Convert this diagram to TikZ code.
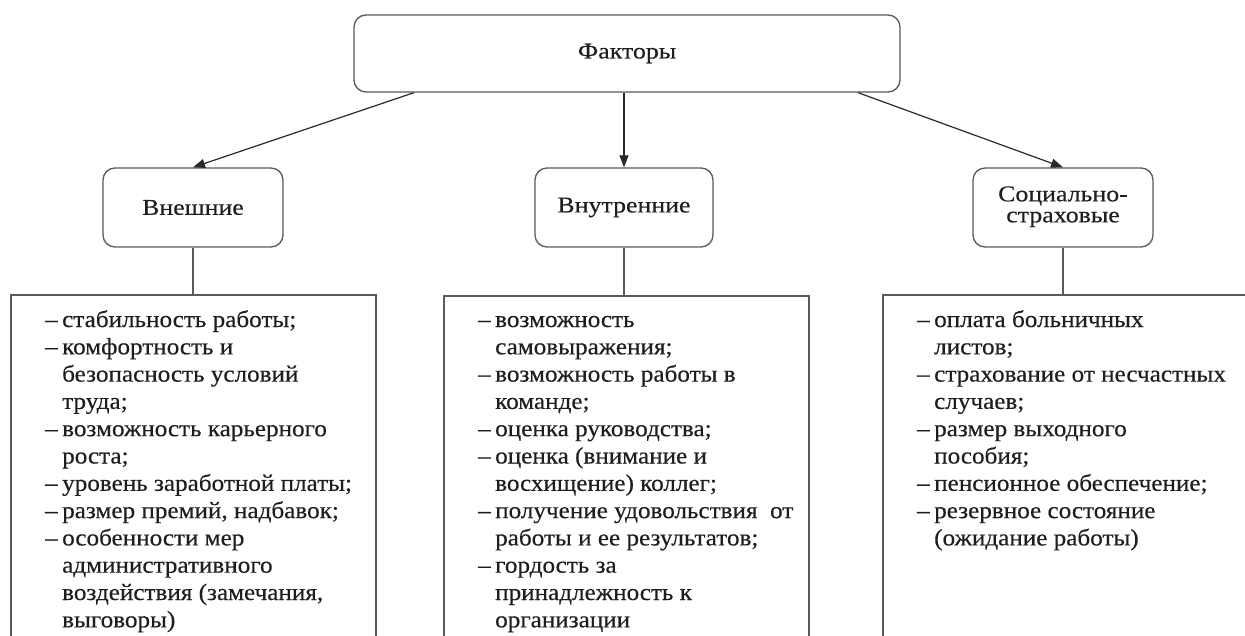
\documentclass[tikz,border=0pt]{standalone}
\usepackage{fontspec}
\setmainfont{Liberation Serif}
\newfontfamily\listfont[FakeStretch=1.07,FakeBold=0.35]{Liberation Serif}
\newfontfamily\labelfont[FakeStretch=1.15,FakeBold=0.3]{Liberation Serif}
\usetikzlibrary{arrows.meta}
\definecolor{boxgray}{HTML}{5A5A5A}
\definecolor{arrgray}{HTML}{2A2A2A}
\definecolor{txt}{HTML}{1E1E1E}
\newcommand\lidash{\makebox[17pt][l]{–}}
\newcommand\liind{\hspace*{17pt}}
\begin{document}
\begin{tikzpicture}[x=1pt,y=-1pt,
  box/.style={draw=boxgray, line width=1.3pt, rounded corners=12pt, align=center,
    text=txt, minimum width=180pt, minimum height=79pt, inner sep=2pt,
    font=\labelfont\fontsize{22.5}{21}\selectfont},
  arr/.style={draw=arrgray, line width=1.2pt, -{Triangle[length=12pt,width=9pt]}},
  link/.style={draw=boxgray, line width=1.4pt},
  frame/.style={draw=boxgray, line width=1.8pt},
  list/.style={anchor=base west, inner sep=0pt, text=txt,
    font=\listfont\fontsize{23.5}{27.3}\selectfont}]
\useasboundingbox (0,0) rectangle (1245,635);
\fill[white] (0,0) rectangle (1245,635);

% top and category boxes
\node[box, minimum width=546pt, minimum height=77pt] (fac) at (627,53.5) {Факторы};
\node[box] (ext) at (193,207.5) {Внешние};
\node[box, minimum width=178pt] (int) at (624,207.5) {Внутренние};
\node[box] (soc) at (1063,207.5) {\raisebox{-2pt}{\begin{tabular}{@{}c@{}}Социально-\\страховые\end{tabular}}};

% arrows
\draw[arr] ([xshift=-213pt]fac.south) -- (ext.north);
\draw[arr] (fac.south -| int.north) -- (int.north);
\draw[arr] ([xshift=231pt]fac.south) -- (soc.north);

% list frames (open at the bottom of the picture)
\coordinate (extT) at (193,295);
\coordinate (intT) at (624,296);
\coordinate (socT) at (1063,295);
\draw[frame] (11,636) |- (376,295) -- (376,636);
\draw[frame] (444,636) |- (809,296) -- (809,636);
\draw[frame] (883,636) |- (1246,295);
\draw[link] (ext.south) -- (extT);
\draw[link] (int.south) -- (intT);
\draw[link] (soc.south) -- (socT);

% lists
\node[list] (extL) at (45,327) {\begin{tabular}[t]{@{}l@{}}
\lidash стабильность работы;\\
\lidash комфортность и\\
\liind безопасность условий\\
\liind труда;\\
\lidash возможность карьерного\\
\liind роста;\\
\lidash уровень заработной платы;\\
\lidash размер премий, надбавок;\\
\lidash особенности мер\\
\liind административного\\
\liind воздействия (замечания,\\
\liind выговоры)
\end{tabular}};

\node[list] (intL) at (478,327) {\begin{tabular}[t]{@{}l@{}}
\lidash возможность\\
\liind самовыражения;\\
\lidash возможность работы в\\
\liind команде;\\
\lidash оценка руководства;\\
\lidash оценка (внимание и\\
\liind восхищение) коллег;\\
\lidash получение удовольствия\ \ от\\
\liind работы и ее результатов;\\
\lidash гордость за\\
\liind принадлежность к\\
\liind организации
\end{tabular}};

\node[list] (socL) at (917,327) {\begin{tabular}[t]{@{}l@{}}
\lidash оплата больничных\\
\liind листов;\\
\lidash страхование от несчастных\\
\liind случаев;\\
\lidash размер выходного\\
\liind пособия;\\
\lidash пенсионное обеспечение;\\
\lidash резервное состояние\\
\liind (ожидание работы)
\end{tabular}};
\end{tikzpicture}
\end{document}
